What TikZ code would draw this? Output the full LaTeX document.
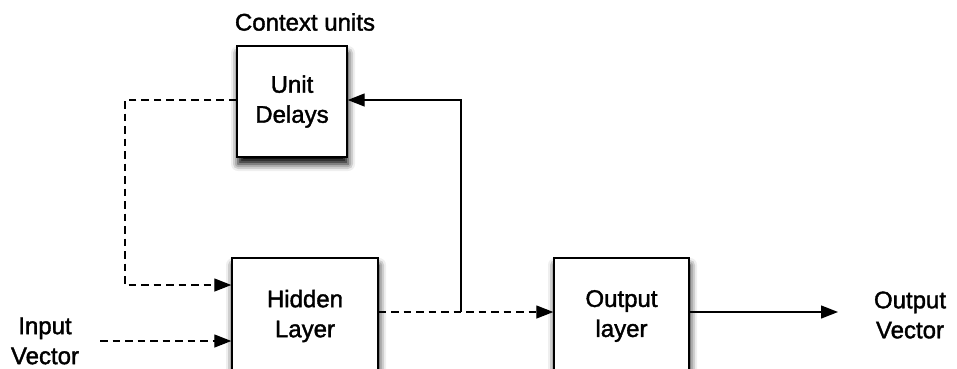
\documentclass[tikz,border=0pt]{standalone}
\usepackage{fontspec}
\setmainfont{Liberation Sans}[FakeBold=1.6]
\usetikzlibrary{arrows.meta,shadows.blur}
\begin{document}
\begin{tikzpicture}[x=1pt,y=-1pt,
  blk/.style={draw, line width=1.4pt, fill=white, align=center,
    font=\fontsize{24}{30}\selectfont, inner sep=0pt,
    blur shadow={shadow xshift=1pt, shadow yshift=-7pt,
      shadow blur radius=7pt, shadow opacity=100}},
  lbl/.style={align=center, font=\fontsize{24}{30}\selectfont},
  conn/.style={line width=1.3pt},
  dsh/.style={conn, dash pattern=on 7.5pt off 5pt},
  tip/.style={-{Triangle[length=17pt,width=13pt]}}]
\useasboundingbox (0,0) rectangle (957,368);

% blocks
\node[blk, minimum width=110pt, minimum height=111pt] (ud) at (292,101.5) {Unit\\Delays};
\node[blk, minimum width=146pt, minimum height=116pt] (hid) at (305,316) {Hidden\\Layer};
\node[blk, minimum width=135pt, minimum height=116pt] (out) at (621.5,316) {Output\\layer};

% free labels
\node[lbl] (ctx) at (305,22) {Context units};
\node[lbl] (inp) at (45,341) {Input\\Vector};
\node[lbl] (ov) at (910,315) {Output\\Vector};

% routing points
\coordinate (ul) at (125,100);
\coordinate (dl) at (125,285);
\coordinate (iv) at (100,341);
\coordinate (hy) at (0,312);
\coordinate (fb) at (461,312);
\coordinate (ft) at (461,100);
\coordinate (oe) at (838,312);

% context feedback into hidden layer
\draw[dsh,tip] (ud.west |- ul) -- (ul) -- (dl) -- (hid.west |- dl);
% input vector
\draw[dsh,tip] (iv) -- (hid.west |- iv);
% hidden to output
\draw[dsh,tip] (hid.east |- hy) -- (out.west |- hy);
% copy of hidden activations to the delays
\draw[conn,tip] (fb) -- (ft) -- (ud.east |- ft);
% output
\draw[conn,tip] (out.east |- oe) -- (oe);
\end{tikzpicture}
\end{document}
